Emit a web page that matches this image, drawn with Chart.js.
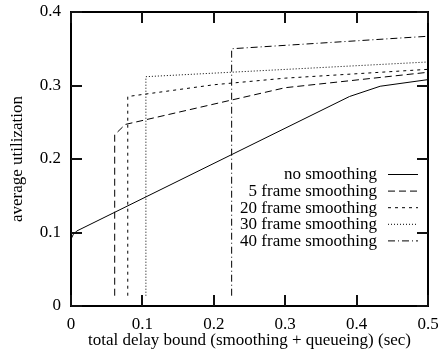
<!DOCTYPE html>
<html>
<head>
<meta charset="utf-8">
<script src="https://cdn.jsdelivr.net/npm/chart.js@4/dist/chart.umd.min.js"></script>
<style>
  body { margin: 0; background: #fff; }
  #wrap { width: 438px; height: 351px; }
</style>
</head>
<body>
<div id="wrap"><canvas id="chart" width="438" height="351"></canvas></div>
<script>
// values
const seriesNames = ["no smoothing", "5 frame smoothing", "20 frame smoothing", "30 frame smoothing", "40 frame smoothing"]

const noSmoothX = [0, 0.003, 0.008, 0.39, 0.433, 0.5]
const noSmoothY = [0.091, 0.097, 0.102, 0.285, 0.299, 0.308]

const frame5X = [0.0612, 0.0612, 0.076, 0.3, 0.5]
const frame5Y = [0.014, 0.233, 0.247, 0.297, 0.318]

const frame20X = [0.0795, 0.0795, 0.2, 0.3, 0.5]
const frame20Y = [0.014, 0.285, 0.301, 0.31, 0.322]

const frame30X = [0.1049, 0.1049, 0.5]
const frame30Y = [0.014, 0.312, 0.332]

const frame40X = [0.225, 0.225, 0.5]
const frame40Y = [0.014, 0.350, 0.367]

const xTickLabels = ["0", "0.1", "0.2", "0.3", "0.4", "0.5"]
const yTickLabels = ["0", "0.1", "0.2", "0.3", "0.4"]

const dashes = [[], [7, 4], [3, 4], [1, 2], [7, 3, 1, 3]]

function pts(xs, ys) {
    return xs.map((x, i) => ({ x: x, y: ys[i] }))
}

const allSeries = [
    pts(noSmoothX, noSmoothY),
    pts(frame5X, frame5Y),
    pts(frame20X, frame20Y),
    pts(frame30X, frame30Y),
    pts(frame40X, frame40Y)
]

Chart.defaults.font.family = "'Liberation Serif', 'DejaVu Serif', serif"
Chart.defaults.font.size = 17
Chart.defaults.color = "#000"

// gnuplot style box with inward ticks on all four sides
const frameTicks = {
    id: "frameTicks",
    afterDraw(chart) {
        const ctx = chart.ctx
        const a = chart.chartArea
        const xs = chart.scales.x, ys = chart.scales.y
        const len = 11
        ctx.save()
        ctx.setLineDash([])
        ctx.strokeStyle = "#000"
        ctx.lineWidth = 2
        ctx.strokeRect(a.left, a.top, a.right - a.left, a.bottom - a.top)
        ctx.fillStyle = "#111"
        xTickLabels.forEach(lab => {
            let px = Math.round(xs.getPixelForValue(Number(lab)))
            ctx.fillRect(px - 1, a.bottom - len, 2, len)
            ctx.fillRect(px - 1, a.top, 2, len)
        })
        yTickLabels.forEach(lab => {
            let py = Math.round(ys.getPixelForValue(Number(lab)))
            ctx.fillRect(a.left, py - 1, len, 2)
            ctx.fillRect(a.right - len, py - 1, len, 2)
        })
        ctx.restore()
    }
}

// legend inside the plot, text right aligned, line sample on the right
const keyBox = {
    id: "keyBox",
    afterDraw(chart) {
        const ctx = chart.ctx
        const a = chart.chartArea
        const textRight = a.right - 51
        const x0 = a.right - 40, x1 = a.right - 10
        ctx.save()
        ctx.font = "17px 'Liberation Serif', serif"
        ctx.fillStyle = "#000"
        ctx.textAlign = "right"
        ctx.textBaseline = "middle"
        chart.data.datasets.forEach((ds, i) => {
            let y = 174 + i * 16.6
            ctx.fillText(ds.label, textRight, y + 1)
            ctx.beginPath()
            ctx.setLineDash(ds.borderDash)
            ctx.strokeStyle = "#000"
            ctx.lineWidth = 1
            ctx.moveTo(x0, y + 0.5); ctx.lineTo(x1, y + 0.5)
            ctx.stroke()
        })
        ctx.restore()
    }
}

const myChart = new Chart(document.getElementById("chart").getContext("2d"), {
    type: "scatter",
    data: {
        datasets: allSeries.map((d, i) => ({
            label: seriesNames[i],
            data: d,
            showLine: true,
            borderColor: "#000",
            backgroundColor: "#000",
            borderWidth: 1,
            borderDash: dashes[i],
            pointRadius: 0,
            tension: 0
        }))
    },
    options: {
        responsive: false,
        animation: false,
        layout: { padding: { top: 12, right: 10, left: 0, bottom: 0 } },
        plugins: {
            legend: { display: false },
            tooltip: { enabled: false }
        },
        scales: {
            x: {
                type: "linear",
                min: 0, max: 0.5,
                grid: { display: false, drawTicks: false },
                border: { display: false },
                ticks: {
                    stepSize: 0.1,
                    padding: 8,
                    maxRotation: 0,
                    callback: (v, i) => xTickLabels[i]
                },
                title: {
                    display: true,
                    text: "total delay bound (smoothing + queueing) (sec)",
                    padding: { top: 0, bottom: 0 }
                },
                afterFit: s => {
                    s.height = 45
                    s.paddingLeft = 0
                    s.paddingRight = 0
                }
            },
            y: {
                type: "linear",
                min: 0, max: 0.4,
                grid: { display: false, drawTicks: false },
                border: { display: false },
                ticks: {
                    stepSize: 0.1,
                    padding: 10,
                    callback: (v, i) => yTickLabels[i]
                },
                title: {
                    display: true,
                    text: "average utilization",
                    padding: { top: 7, bottom: 0 }
                },
                afterFit: s => {
                    s.width = 71
                    s.paddingTop = 0
                    s.paddingBottom = 0
                }
            }
        }
    },
    plugins: [frameTicks, keyBox]
})
</script>
</body>
</html>
